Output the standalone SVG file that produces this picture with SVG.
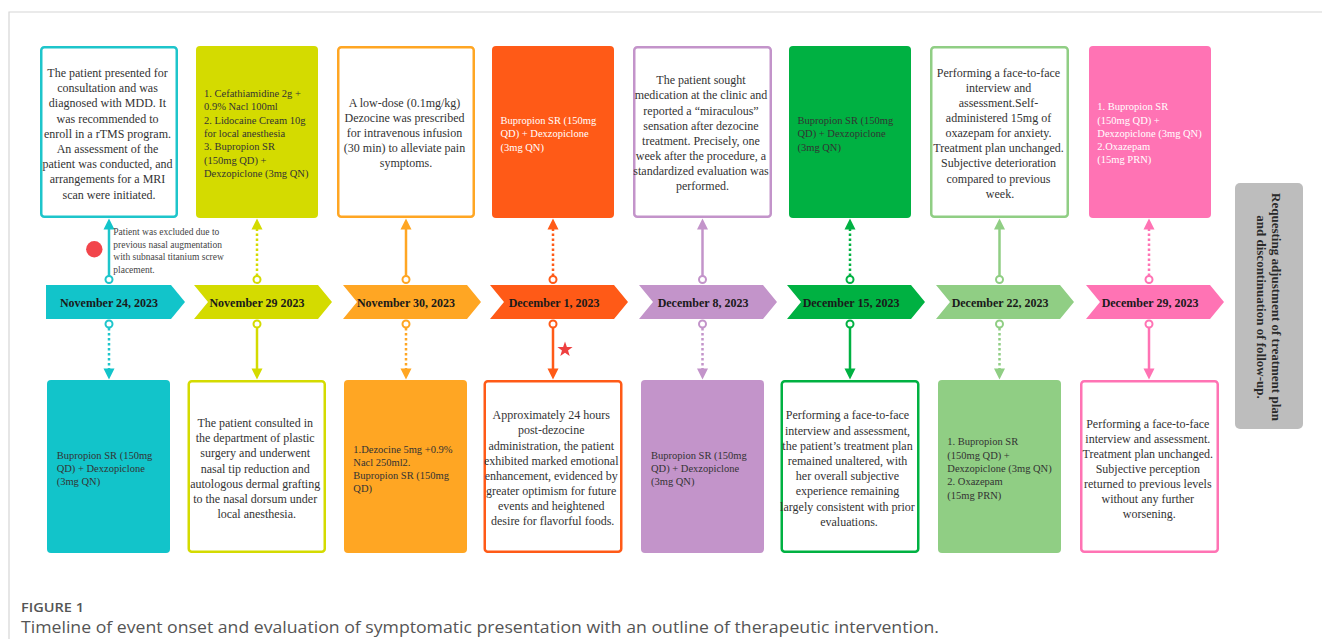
<svg xmlns="http://www.w3.org/2000/svg" xmlns:xlink="http://www.w3.org/1999/xlink" width="1322" height="639" viewBox="0 0 1322 639">
  <defs>
    <style>
      .serif { font-family: "Liberation Serif", "Times New Roman", serif; }
      .note { font-size: 12px; fill: #333; }
      .med { font-size: 10.5px; fill: #333; }
      .med-w { font-size: 10.5px; fill: #fff; }
      .date { font-size: 12px; font-weight: bold; fill: #1a1a1a; }
      .ann { font-size: 9.5px; fill: #444; }
      .outline { fill: #fff; stroke-width: 2.5; }
      .solid { fill: none; stroke-width: 2.5; }
      .dotted { fill: none; stroke-width: 2.5; stroke-dasharray: 2.5 2.5; }
      .knob { fill: #fff; stroke-width: 2; }
      .c-teal { stroke: #1EC5CB; } .f-teal { fill: #12C4CA; }
      .c-lime { stroke: #D4DB00; } .f-lime { fill: #D4DB00; }
      .c-orng { stroke: #FFA623; } .f-orng { fill: #FFA623; }
      .c-red { stroke: #FF5A17; } .f-red { fill: #FF5A17; }
      .c-lil { stroke: #C394CA; } .f-lil { fill: #C394CA; }
      .c-grn { stroke: #00B142; } .f-grn { fill: #00B142; }
      .c-lgr { stroke: #90CE84; } .f-lgr { fill: #90CE84; }
      .c-pnk { stroke: #FF73B4; } .f-pnk { fill: #FF73B4; }
    </style>
    <path id="head-up" d="M0,0 L-5.5,11 L5.5,11 Z"/>
    <path id="head-down" d="M0,0 L-5.5,-11 L5.5,-11 Z"/>
  </defs>

  <rect width="1322" height="639" fill="#fff"/>
  <!-- page frame -->
  <path d="M9,639 V12 H1322" fill="none" stroke="#d6d6d6" stroke-width="1.2"/>

  <!-- ===== upper row of boxes ===== -->
  <g id="top-nov24">
    <rect class="outline c-teal" x="41.25" y="47.25" width="135.5" height="169.5" rx="3"/>
    <text class="serif note" text-anchor="middle" x="109" y="77">
      <tspan x="109">The patient presented for</tspan>
      <tspan x="109" dy="15.2">consultation and was</tspan>
      <tspan x="109" dy="15.2">diagnosed with MDD. It</tspan>
      <tspan x="109" dy="15.2">was recommended to</tspan>
      <tspan x="109" dy="15.2">enroll in a rTMS program.</tspan>
      <tspan x="109" dy="15.2">An assessment of the</tspan>
      <tspan x="109" dy="15.2">patient was conducted, and</tspan>
      <tspan x="109" dy="15.2">arrangements for a MRI</tspan>
      <tspan x="109" dy="15.2">scan were initiated.</tspan>
    </text>
  </g>
  <g id="top-nov29">
    <rect class="f-lime" x="196" y="46" width="122" height="172" rx="4"/>
    <text class="serif med" x="204" y="97">
      <tspan x="204">1. Cefathiamidine 2g +</tspan>
      <tspan x="204" dy="13.3">0.9% Nacl 100ml</tspan>
      <tspan x="204" dy="13.3">2. Lidocaine Cream 10g</tspan>
      <tspan x="204" dy="13.3">for local anesthesia</tspan>
      <tspan x="204" dy="13.3">3. Bupropion SR</tspan>
      <tspan x="204" dy="13.3">(150mg QD) +</tspan>
      <tspan x="204" dy="13.3">Dexzopiclone (3mg QN)</tspan>
    </text>
  </g>
  <g id="top-nov30">
    <rect class="outline c-orng" x="338.25" y="47.25" width="135.5" height="169.5" rx="3"/>
    <text class="serif note" text-anchor="middle" x="406" y="107">
      <tspan x="406">A low-dose (0.1mg/kg)</tspan>
      <tspan x="406" dy="15.1">Dezocine was prescribed</tspan>
      <tspan x="406" dy="15.1">for intravenous infusion</tspan>
      <tspan x="406" dy="15.1">(30 min) to alleviate pain</tspan>
      <tspan x="406" dy="15.1">symptoms.</tspan>
    </text>
  </g>
  <g id="top-dec1">
    <rect class="f-red" x="492" y="46" width="122" height="172" rx="4"/>
    <text class="serif med-w" x="500.5" y="123.7">
      <tspan x="500.5">Bupropion SR (150mg</tspan>
      <tspan x="500.5" dy="13.6">QD) + Dexzopiclone</tspan>
      <tspan x="500.5" dy="13.6">(3mg QN)</tspan>
    </text>
  </g>
  <g id="top-dec8">
    <rect class="outline c-lil" x="634.25" y="47.25" width="136.5" height="169.5" rx="3"/>
    <text class="serif note" text-anchor="middle" x="702.5" y="84.3">
      <tspan x="702.5">The patient sought</tspan>
      <tspan x="702.5" dy="15.1">medication at the clinic and</tspan>
      <tspan x="702.5" dy="15.1">reported a “miraculous”</tspan>
      <tspan x="702.5" dy="15.1">sensation after dezocine</tspan>
      <tspan x="702.5" dy="15.1">treatment. Precisely, one</tspan>
      <tspan x="702.5" dy="15.1">week after the procedure, a</tspan>
      <tspan x="702.5" dy="15.1">standardized evaluation was</tspan>
      <tspan x="702.5" dy="15.1">performed.</tspan>
    </text>
  </g>
  <g id="top-dec15">
    <rect class="f-grn" x="789" y="46" width="122" height="172" rx="4"/>
    <text class="serif med" fill="#1d1d1d" x="797.5" y="123.7">
      <tspan x="797.5">Bupropion SR (150mg</tspan>
      <tspan x="797.5" dy="13.6">QD) + Dexzopiclone</tspan>
      <tspan x="797.5" dy="13.6">(3mg QN)</tspan>
    </text>
  </g>
  <g id="top-dec22">
    <rect class="outline c-lgr" x="931.25" y="47.25" width="136.5" height="169.5" rx="3"/>
    <text class="serif note" text-anchor="middle" x="1000" y="77">
      <tspan x="1000">Performing a face-to-face</tspan>
      <tspan x="1000" dy="15.08">interview and</tspan>
      <tspan x="1000" dy="15.08">assessment.Self-</tspan>
      <tspan x="1000" dy="15.08">administered 15mg of</tspan>
      <tspan x="1000" dy="15.08">oxazepam for anxiety.</tspan>
      <tspan x="1000" dy="15.08">Treatment plan unchanged.</tspan>
      <tspan x="1000" dy="15.08">Subjective deterioration</tspan>
      <tspan x="1000" dy="15.08">compared to previous</tspan>
      <tspan x="1000" dy="15.08">week.</tspan>
    </text>
  </g>
  <g id="top-dec29">
    <rect class="f-pnk" x="1089" y="46" width="122" height="172" rx="4"/>
    <text class="serif med-w" x="1097.3" y="110.4">
      <tspan x="1097.3">1. Bupropion SR</tspan>
      <tspan x="1097.3" dy="13.2">(150mg QD) +</tspan>
      <tspan x="1097.3" dy="13.2">Dexzopiclone (3mg QN)</tspan>
      <tspan x="1097.3" dy="13.2">2.Oxazepam</tspan>
      <tspan x="1097.3" dy="13.2">(15mg PRN)</tspan>
    </text>
  </g>

  <!-- ===== date chevrons ===== -->
  <g id="date-nov24">
    <path class="f-teal" d="M46,285 H171 L185,302 L171,319 H46 Z"/>
    <text class="serif date" text-anchor="middle" x="109" y="306.5">November 24, 2023</text>
  </g>
  <g id="date-nov29">
    <path class="f-lime" d="M194,285 H318 L332,302 L318,319 H194 L208,302 Z"/>
    <text class="serif date" text-anchor="middle" x="257" y="306.5">November 29 2023</text>
  </g>
  <g id="date-nov30">
    <path class="f-orng" d="M343,285 H467 L481,302 L467,319 H343 L357,302 Z"/>
    <text class="serif date" text-anchor="middle" x="406" y="306.5">November 30, 2023</text>
  </g>
  <g id="date-dec1">
    <path class="f-red" d="M490,285 H614 L628,302 L614,319 H490 L504,302 Z"/>
    <text class="serif date" text-anchor="middle" x="554" y="306.5">December 1, 2023</text>
  </g>
  <g id="date-dec8">
    <path class="f-lil" d="M639,285 H763 L777,302 L763,319 H639 L653,302 Z"/>
    <text class="serif date" text-anchor="middle" x="703" y="306.5">December 8, 2023</text>
  </g>
  <g id="date-dec15">
    <path class="f-grn" d="M787,285 H911 L925,302 L911,319 H787 L801,302 Z"/>
    <text class="serif date" text-anchor="middle" x="851" y="306.5">December 15, 2023</text>
  </g>
  <g id="date-dec22">
    <path class="f-lgr" d="M936,285 H1060 L1074,302 L1060,319 H936 L950,302 Z"/>
    <text class="serif date" text-anchor="middle" x="1000" y="306.5">December 22, 2023</text>
  </g>
  <g id="date-dec29">
    <path class="f-pnk" d="M1086,285 H1210 L1224,302 L1210,319 H1086 L1100,302 Z"/>
    <text class="serif date" text-anchor="middle" x="1150" y="306.5">December 29, 2023</text>
  </g>

  <!-- ===== lower row of boxes ===== -->
  <g id="bottom-nov24">
    <rect class="f-teal" x="47" y="380" width="123" height="173" rx="4"/>
    <text class="serif med" x="56.7" y="458.7">
      <tspan x="56.7">Bupropion SR (150mg</tspan>
      <tspan x="56.7" dy="13">QD) + Dexzopiclone</tspan>
      <tspan x="56.7" dy="13">(3mg QN)</tspan>
    </text>
  </g>
  <g id="bottom-nov29">
    <rect class="outline c-lime" x="188.75" y="381.25" width="136" height="170.5" rx="3"/>
    <text class="serif note" text-anchor="middle" x="256.7" y="427">
      <tspan x="256.7">The patient consulted in</tspan>
      <tspan x="256.7" dy="15.2">the department of plastic</tspan>
      <tspan x="256.7" dy="15.2">surgery and underwent</tspan>
      <tspan x="256.7" dy="15.2">nasal tip reduction and</tspan>
      <tspan x="256.7" dy="15.2">autologous dermal grafting</tspan>
      <tspan x="256.7" dy="15.2">to the nasal dorsum under</tspan>
      <tspan x="256.7" dy="15.2">local anesthesia.</tspan>
    </text>
  </g>
  <g id="bottom-nov30">
    <rect class="f-orng" x="344" y="380" width="123" height="173" rx="4"/>
    <text class="serif med" x="353.3" y="452.7">
      <tspan x="353.3">1.Dezocine 5mg +0.9%</tspan>
      <tspan x="353.3" dy="13.1">Nacl 250ml2.</tspan>
      <tspan x="353.3" dy="13.1">Bupropion SR (150mg</tspan>
      <tspan x="353.3" dy="13.1">QD)</tspan>
    </text>
  </g>
  <g id="bottom-dec1">
    <rect class="outline c-red" x="484.75" y="381.25" width="136.5" height="170.5" rx="3"/>
    <text class="serif note" text-anchor="middle" x="552.7" y="419.3">
      <tspan x="552.7">Approximately 24 hours</tspan>
      <tspan x="552.7" dy="15.1">post-dezocine</tspan>
      <tspan x="552.7" dy="15.1">administration, the patient</tspan>
      <tspan x="552.7" dy="15.1">exhibited marked emotional</tspan>
      <tspan x="552.7" dy="15.1">enhancement, evidenced by</tspan>
      <tspan x="552.7" dy="15.1">greater optimism for future</tspan>
      <tspan x="552.7" dy="15.1">events and heightened</tspan>
      <tspan x="552.7" dy="15.1">desire for flavorful foods.</tspan>
    </text>
  </g>
  <g id="bottom-dec8">
    <rect class="f-lil" x="641" y="380" width="123" height="173" rx="4"/>
    <text class="serif med" x="651" y="458.7">
      <tspan x="651">Bupropion SR (150mg</tspan>
      <tspan x="651" dy="13">QD) + Dexzopiclone</tspan>
      <tspan x="651" dy="13">(3mg QN)</tspan>
    </text>
  </g>
  <g id="bottom-dec15">
    <rect class="outline c-grn" x="781.75" y="381.25" width="136.5" height="170.5" rx="3"/>
    <text class="serif note" text-anchor="middle" x="849" y="419.3">
      <tspan x="849">Performing a face-to-face</tspan>
      <tspan x="849" dy="15.2">interview and assessment,</tspan>
      <tspan x="849" dy="15.2">the patient’s treatment plan</tspan>
      <tspan x="849" dy="15.2">remained unaltered, with</tspan>
      <tspan x="849" dy="15.2">her overall subjective</tspan>
      <tspan x="849" dy="15.2">experience remaining</tspan>
      <tspan x="849" dy="15.2">largely consistent with prior</tspan>
      <tspan x="849" dy="15.2">evaluations.</tspan>
    </text>
  </g>
  <g id="bottom-dec22">
    <rect class="f-lgr" x="938" y="380" width="123" height="173" rx="4"/>
    <text class="serif med" x="947.3" y="445.4">
      <tspan x="947.3">1. Bupropion SR</tspan>
      <tspan x="947.3" dy="13.3">(150mg QD) +</tspan>
      <tspan x="947.3" dy="13.3">Dexzopiclone (3mg QN)</tspan>
      <tspan x="947.3" dy="13.3">2. Oxazepam</tspan>
      <tspan x="947.3" dy="13.3">(15mg PRN)</tspan>
    </text>
  </g>
  <g id="bottom-dec29">
    <rect class="outline c-pnk" x="1081.25" y="381.25" width="136.5" height="170.5" rx="3"/>
    <text class="serif note" text-anchor="middle" x="1149.3" y="427.6">
      <tspan x="1149.3">Performing a face-to-face</tspan>
      <tspan x="1149.3" dy="15.1">interview and assessment.</tspan>
      <tspan x="1149.3" dy="15.1">Treatment plan unchanged.</tspan>
      <tspan x="1149.3" dy="15.1">Subjective perception</tspan>
      <tspan x="1149.3" dy="15.1">returned to previous levels</tspan>
      <tspan x="1149.3" dy="15.1">without any further</tspan>
      <tspan x="1149.3" dy="15.1">worsening.</tspan>
    </text>
  </g>

  <!-- ===== connectors: date chevrons to boxes ===== -->
  <g id="connectors">
    <!-- Nov 24 -->
    <line class="solid c-teal" x1="109" y1="276" x2="109" y2="228"/>
    <use xlink:href="#head-up" x="109" y="218.5" class="f-teal"/>
    <circle class="knob c-teal" cx="109" cy="279.5" r="3.5"/>
    <line class="dotted c-teal" x1="109" y1="328" x2="109" y2="369"/>
    <use xlink:href="#head-down" x="109" y="379.5" class="f-teal"/>
    <circle class="knob c-teal" cx="109" cy="324" r="3.5"/>
    <!-- Nov 29 -->
    <line class="dotted c-lime" x1="257" y1="276" x2="257" y2="228"/>
    <use xlink:href="#head-up" x="257" y="218.5" class="f-lime"/>
    <circle class="knob c-lime" cx="257" cy="279.5" r="3.5"/>
    <line class="solid c-lime" x1="257" y1="328" x2="257" y2="369"/>
    <use xlink:href="#head-down" x="257" y="379.5" class="f-lime"/>
    <circle class="knob c-lime" cx="257" cy="324" r="3.5"/>
    <!-- Nov 30 -->
    <line class="solid c-orng" x1="406" y1="276" x2="406" y2="228"/>
    <use xlink:href="#head-up" x="406" y="218.5" class="f-orng"/>
    <circle class="knob c-orng" cx="406" cy="279.5" r="3.5"/>
    <line class="dotted c-orng" x1="406" y1="328" x2="406" y2="369"/>
    <use xlink:href="#head-down" x="406" y="379.5" class="f-orng"/>
    <circle class="knob c-orng" cx="406" cy="324" r="3.5"/>
    <!-- Dec 1 -->
    <line class="dotted c-red" x1="553" y1="276" x2="553" y2="228"/>
    <use xlink:href="#head-up" x="553" y="218.5" class="f-red"/>
    <circle class="knob c-red" cx="553" cy="279.5" r="3.5"/>
    <line class="solid c-red" x1="553" y1="328" x2="553" y2="369"/>
    <use xlink:href="#head-down" x="553" y="379.5" class="f-red"/>
    <circle class="knob c-red" cx="553" cy="324" r="3.5"/>
    <!-- Dec 8 -->
    <line class="solid c-lil" x1="702.5" y1="276" x2="702.5" y2="228"/>
    <use xlink:href="#head-up" x="702.5" y="218.5" class="f-lil"/>
    <circle class="knob c-lil" cx="702.5" cy="279.5" r="3.5"/>
    <line class="dotted c-lil" x1="702.5" y1="328" x2="702.5" y2="369"/>
    <use xlink:href="#head-down" x="702.5" y="379.5" class="f-lil"/>
    <circle class="knob c-lil" cx="702.5" cy="324" r="3.5"/>
    <!-- Dec 15 -->
    <line class="dotted c-grn" x1="850" y1="276" x2="850" y2="228"/>
    <use xlink:href="#head-up" x="850" y="218.5" class="f-grn"/>
    <circle class="knob c-grn" cx="850" cy="279.5" r="3.5"/>
    <line class="solid c-grn" x1="850" y1="328" x2="850" y2="369"/>
    <use xlink:href="#head-down" x="850" y="379.5" class="f-grn"/>
    <circle class="knob c-grn" cx="850" cy="324" r="3.5"/>
    <!-- Dec 22 -->
    <line class="solid c-lgr" x1="999.5" y1="276" x2="999.5" y2="228"/>
    <use xlink:href="#head-up" x="999.5" y="218.5" class="f-lgr"/>
    <circle class="knob c-lgr" cx="999.5" cy="279.5" r="3.5"/>
    <line class="dotted c-lgr" x1="999.5" y1="328" x2="999.5" y2="369"/>
    <use xlink:href="#head-down" x="999.5" y="379.5" class="f-lgr"/>
    <circle class="knob c-lgr" cx="999.5" cy="324" r="3.5"/>
    <!-- Dec 29 -->
    <line class="dotted c-pnk" x1="1149" y1="276" x2="1149" y2="228"/>
    <use xlink:href="#head-up" x="1149" y="218.5" class="f-pnk"/>
    <circle class="knob c-pnk" cx="1149" cy="279.5" r="3.5"/>
    <line class="solid c-pnk" x1="1149" y1="328" x2="1149" y2="369"/>
    <use xlink:href="#head-down" x="1149" y="379.5" class="f-pnk"/>
    <circle class="knob c-pnk" cx="1149" cy="324" r="3.5"/>
  </g>

  <!-- exclusion note beside the first connector -->
  <g id="exclusion-note">
    <circle cx="94.3" cy="249.3" r="8.2" fill="#F2454B"/>
    <text class="serif ann" x="113.3" y="235">
      <tspan x="113.3">Patient was excluded due to</tspan>
      <tspan x="113.3" dy="12.6">previous nasal augmentation</tspan>
      <tspan x="113.3" dy="12.6">with subnasal titanium screw</tspan>
      <tspan x="113.3" dy="12.6">placement.</tspan>
    </text>
  </g>

  <!-- marker on the Dec 1 response -->
  <polygon id="response-star" fill="#EE3F3F" points="565,341.5 566.88,346.91 572.61,347.03 568.04,350.49 569.7,355.97 565,352.7 560.3,355.97 561.96,350.49 557.39,347.03 563.12,346.91"/>

  <!-- outcome panel -->
  <g id="outcome">
    <rect x="1235" y="183" width="68" height="246" rx="5" fill="#BDBDBD"/>
    <g transform="translate(1272,307) rotate(90)">
      <text class="serif" font-size="13" font-weight="bold" fill="#2a2a2a" text-anchor="middle" x="0" y="0">Requesting adjustment of treatment plan</text>
      <text class="serif" font-size="13" font-weight="bold" fill="#2a2a2a" text-anchor="middle" x="0" y="15">and discontinuation of follow-up.</text>
    </g>
  </g>

  <!-- caption -->
  <g id="caption" font-family="'Open Sans', 'Noto Sans', sans-serif" fill="#555">
    <text x="21" y="612" font-size="13" font-weight="600" textLength="63" lengthAdjust="spacingAndGlyphs">FIGURE 1</text>
    <text x="21" y="633" font-size="15.5" textLength="918" lengthAdjust="spacingAndGlyphs">Timeline of event onset and evaluation of symptomatic presentation with an outline of therapeutic intervention.</text>
  </g>
</svg>
